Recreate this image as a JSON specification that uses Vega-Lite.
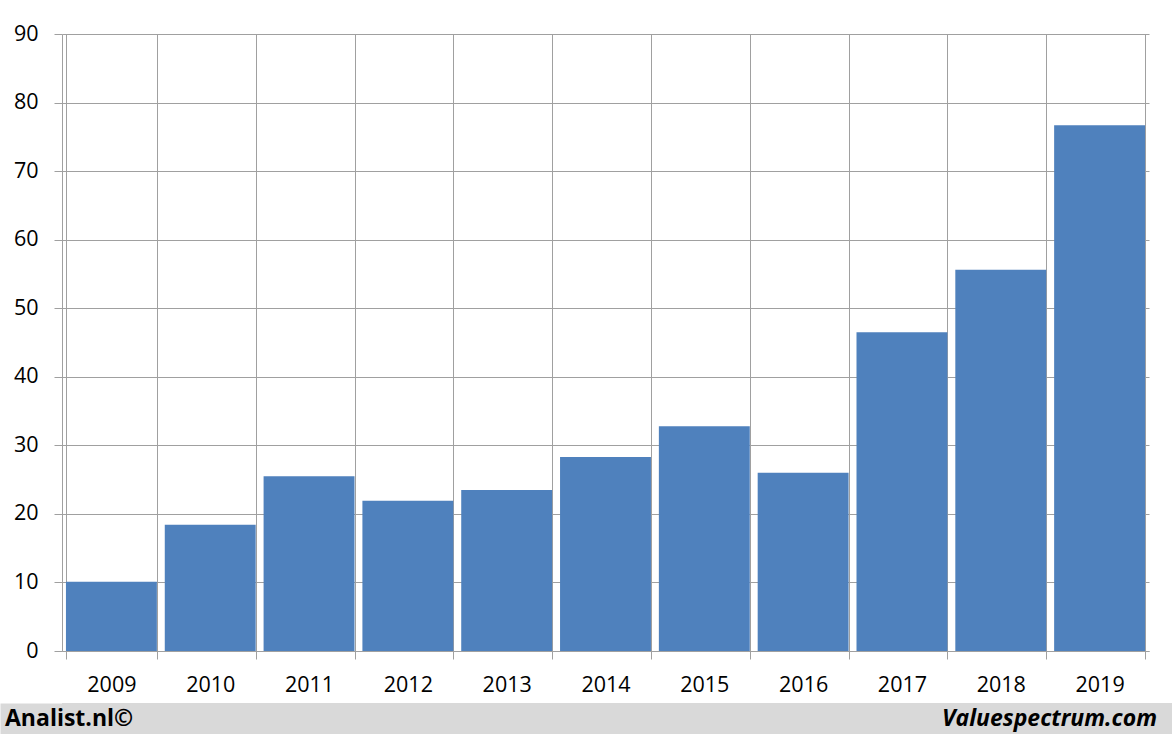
{
  "$schema": "https://vega.github.io/schema/vega-lite/v6.json",
  "background": "white",
  "padding": {"top": 23, "left": 0, "right": 0, "bottom": 0},
  "spacing": 0,
  "config": {"font": "Open Sans", "view": {"stroke": null}},
  "vconcat": [
    {
      "width": 1087,
      "height": 617,
      "data": {"values": [
        {"year": "2009", "value": 10.1},
        {"year": "2010", "value": 18.4},
        {"year": "2011", "value": 25.5},
        {"year": "2012", "value": 21.9},
        {"year": "2013", "value": 23.5},
        {"year": "2014", "value": 28.3},
        {"year": "2015", "value": 32.8},
        {"year": "2016", "value": 26.0},
        {"year": "2017", "value": 46.5},
        {"year": "2018", "value": 55.6},
        {"year": "2019", "value": 76.7}
      ]},
      "mark": {"type": "bar", "color": "#4F81BD"},
      "encoding": {
        "x": {
          "field": "year", "type": "ordinal",
          "scale": {"paddingInner": 0.08, "paddingOuter": 0.04},
          "axis": {
            "title": null, "labelAngle": 0, "tickBand": "extent", "grid": true,
            "gridColor": "#a0a0a0", "gridOpacity": 1, "domainColor": "#a0a0a0", "tickColor": "#a0a0a0",
            "tickSize": 8, "labelFontSize": 21.5, "labelColor": "#000000", "labelPadding": 15,
            "minExtent": 52, "maxExtent": 52
          }
        },
        "y": {
          "field": "value", "type": "quantitative",
          "scale": {"domain": [0, 90], "nice": false},
          "axis": {
            "title": null, "values": [0, 10, 20, 30, 40, 50, 60, 70, 80, 90], "grid": true,
            "gridColor": "#a0a0a0", "gridOpacity": 1, "domainColor": "#a0a0a0", "tickColor": "#a0a0a0",
            "tickSize": 8, "labelFontSize": 21.5, "labelColor": "#000000", "labelPadding": 16,
            "minExtent": 62, "maxExtent": 62
          }
        }
      }
    },
    {
      "width": 1110,
      "height": 31,
      "view": {"fill": "#d9d9d9", "stroke": null},
      "layer": [
        {
          "data": {"values": [{"label": "Analist.nl©", "pos": 0, "row": 0.5}]},
          "mark": {"type": "text", "align": "left", "dx": -57, "fontSize": 23, "fontWeight": "bold", "color": "#000000"},
          "encoding": {
            "x": {"field": "pos", "type": "quantitative", "scale": {"domain": [0, 1]}, "axis": null},
            "y": {"field": "row", "type": "quantitative", "scale": {"domain": [0, 1]},
              "axis": {"title": null, "labels": false, "ticks": false, "grid": false, "domain": true,
                "domainColor": "#d9d9d9", "domainWidth": 124, "offset": 0, "minExtent": 62, "maxExtent": 62, "zindex": 0}},
            "text": {"field": "label"}
          }
        },
        {
          "data": {"values": [{"label": "Valuespectrum.com", "pos": 1, "row": 0.5}]},
          "mark": {"type": "text", "align": "right", "dx": -15, "fontSize": 23, "fontWeight": "bold", "fontStyle": "italic", "color": "#000000"},
          "encoding": {
            "x": {"field": "pos", "type": "quantitative", "scale": {"domain": [0, 1]}, "axis": null},
            "y": {"field": "row", "type": "quantitative", "scale": {"domain": [0, 1]}},
            "text": {"field": "label"}
          }
        }
      ]
    }
  ]
}
